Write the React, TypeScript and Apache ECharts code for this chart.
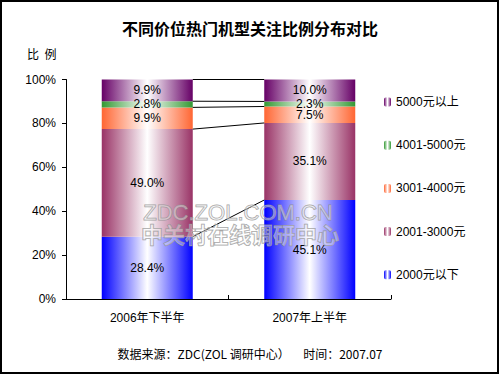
import React, { useEffect, useRef } from "react";
import * as echarts from "echarts";

const categories = ["2006年下半年", "2007年上半年"];
const seriesNames = ["2000元以下", "2001-3000元", "3001-4000元", "4001-5000元", "5000元以上"];
const v2000Below = [28.4, 45.1];
const v2001to3000 = [49.0, 35.1];
const v3001to4000 = [9.9, 7.5];
const v4001to5000 = [2.8, 2.3];
const v5000Above = [9.9, 10.0];
const seriesValues = [v2000Below, v2001to3000, v3001to4000, v4001to5000, v5000Above];
const seriesColors = ["#0000FF", "#993366", "#FF6633", "#339933", "#660066"];

const FONT = "'Liberation Sans', Arial, 'Noto Sans CJK SC', sans-serif";

function grad(c: string) {
  return new echarts.graphic.LinearGradient(0, 0, 1, 0, [
    { offset: 0, color: c },
    { offset: 0.5, color: "#FFFFFF" },
    { offset: 1, color: c },
  ]);
}

export default function App() {
  const ref = useRef<HTMLDivElement>(null);
  useEffect(() => {
    document.body.style.margin = "0";
    const chart = echarts.init(ref.current!, null, { renderer: "svg" });
    // cumulative boundaries for series lines
    const cum: number[][] = [];
    let a = 0, b = 0;
    for (const vals of seriesValues) {
      a += vals[0];
      b += vals[1];
      cum.push([0, +a.toFixed(1), +b.toFixed(1)]);
    }
    const bars = seriesNames.map((name, i) => ({
      name,
      type: "bar",
      stack: "total",
      barWidth: "56%",
      data: seriesValues[i],
      itemStyle: { color: grad(seriesColors[i]) },
      label: {
        show: true,
        position: "inside",
        color: "#000",
        fontSize: 12,
        fontFamily: FONT,
        formatter: (p: any) => Number(p.value).toFixed(1) + "%",
      },
    }));
    chart.setOption({
      animation: false,
      backgroundColor: "#fff",
      textStyle: { fontFamily: FONT },
      grid: { left: 66, right: 109, top: 79.5, bottom: 76 },
      legend: {
        orient: "vertical",
        left: 379,
        top: 90,
        itemWidth: 7,
        itemHeight: 9,
        itemGap: 29.2,
        data: seriesNames.slice().reverse(),
        textStyle: { fontSize: 12, color: "#000", fontFamily: FONT, lineHeight: 14 },
      },
      xAxis: {
        type: "category",
        data: categories,
        axisLine: { lineStyle: { color: "#000", width: 1 } },
        axisTick: { show: true, inside: true, length: 4, lineStyle: { color: "#000" } },
        axisLabel: { color: "#000", fontSize: 12, margin: 13, fontFamily: FONT },
      },
      yAxis: {
        type: "value",
        min: 0,
        max: 100,
        interval: 20,
        axisLine: { show: true, lineStyle: { color: "#000", width: 1 } },
        axisTick: { show: true, length: 4, lineStyle: { color: "#000" } },
        splitLine: { show: false },
        axisLabel: { color: "#000", fontSize: 12, margin: 10, fontFamily: FONT, formatter: "{value}%" },
      },
      graphic: [
        { type: "rect", shape: { x: 1, y: 1, width: 497, height: 372 }, style: { fill: "none", stroke: "#000", lineWidth: 2 }, z: 100 },
        { type: "text", left: "center", top: 20, style: { text: "不同价位热门机型关注比例分布对比", font: "bold 16px 'Noto Sans CJK SC', sans-serif", fill: "#000" } },
        { type: "text", left: 27, top: 47, style: { text: "比  例", font: "12px 'Noto Sans CJK SC', sans-serif", fill: "#000" } },
        { type: "text", x: 238, y: 212, z: 50, style: { text: "ZDC.ZOL.COM.CN", align: "center", verticalAlign: "middle", font: "22px 'Liberation Sans', Arial, sans-serif", fill: "rgba(255,255,255,0.35)", stroke: "rgba(140,140,140,0.8)", lineWidth: 1 } },
        { type: "text", x: 240, y: 233, z: 50, style: { text: "中关村在线调研中心", align: "center", verticalAlign: "middle", font: "bold 22px 'Noto Sans CJK SC', sans-serif", fill: "rgba(255,255,255,0.35)", stroke: "rgba(140,140,140,0.8)", lineWidth: 1 } },
        { type: "text", left: "center", top: 347, style: { text: "数据来源：ZDC(ZOL 调研中心）     时间：2007.07", font: "12px 'Noto Sans CJK SC', sans-serif", fill: "#000" } },
      ],
      series: [
        ...bars,
        {
          type: "custom",
          name: "serieslines",
          data: cum,
          encode: { x: 0, y: [1, 2] },
          z: 10,
          renderItem: (params: any, api: any) => {
            const p1 = api.coord([0, api.value(1)]);
            const p2 = api.coord([1, api.value(2)]);
            const half = api.size([1, 0])[0] * 0.28;
            return {
              type: "line",
              shape: { x1: p1[0] + half, y1: p1[1], x2: p2[0] - half, y2: p2[1] },
              style: { stroke: "#000", lineWidth: 1 },
            };
          },
        },
      ],
    } as any);
    return () => chart.dispose();
  }, []);
  return <div ref={ref} style={{ position: "fixed", left: 0, top: 0, width: 500, height: 375 }} />;
}
